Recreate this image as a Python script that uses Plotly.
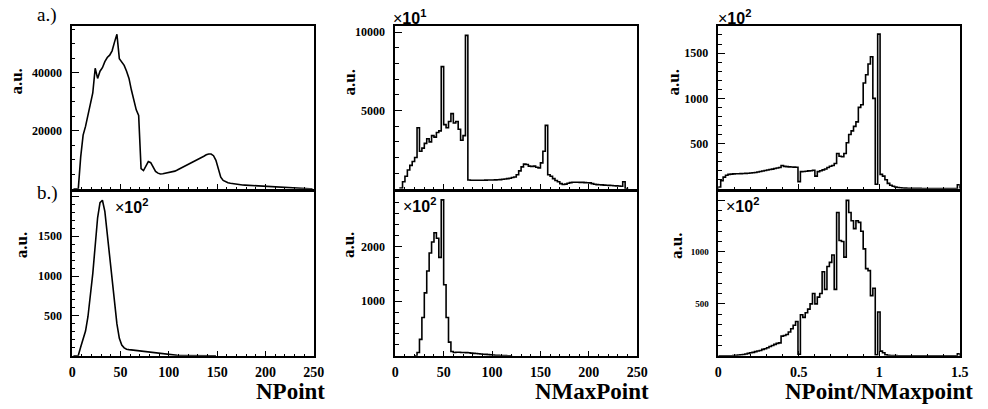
import numpy as np
import plotly.graph_objects as go

W, H = 988, 409

# ---------------- data ----------------
# NPoint histogram (a.), 2.5-wide bins starting at 0
npoint_a_start, npoint_a_width = 0.0, 2.5
npoint_a = [0, 0, 0, 11000, 18500, 21500, 25500, 28500, 33000, 41500,
            38000, 40500, 41700, 43800, 45200, 46000, 47500, 50500, 53200, 44800,
            43800, 42500, 40500, 38000, 34000, 30000, 27200, 25300, 7000, 6300,
            7900, 9400, 9000, 7300, 6000, 5400, 5100, 5200, 5400, 5500,
            5600, 5800, 6100, 6500, 6900, 7400, 7800, 8200, 8600, 9000,
            9400, 9900, 10300, 10800, 11200, 11700, 12000, 12000, 11400, 9800,
            6500, 4000, 2900, 2400, 2100, 1900, 1750, 1600, 1500, 1400,
            1330, 1270, 1220, 1180, 1140, 1090, 1030, 960, 890, 820,
            760, 700, 640, 580, 520, 460, 400, 350, 300, 260,
            220, 180, 150, 120, 100, 80, 60, 40, 25, 10]

# NPoint histogram (b.)
npoint_b_start, npoint_b_width = 0.0, 2.5
npoint_b = [0, 0, 5, 110, 200, 310, 490, 730, 1030, 1380,
            1730, 1920, 1950, 1810, 1530, 1240, 970, 700, 400, 220,
            135, 100, 83, 78, 74, 71, 67, 63, 58, 54,
            49, 45, 41, 37, 33, 29, 26, 22, 18, 14,
            11, 9, 7, 6, 5, 4, 3, 3, 2, 2,
            2, 1, 1, 1, 1, 1, 0, 0, 0, 0]

# NMaxPoint histogram (a.)
nmax_a_start, nmax_a_width = 5.0, 2.5
nmax_a = [50, 450, 800, 1200, 1500, 1750, 2000, 3900, 2400, 2600,
          2900, 3200, 3000, 3400, 3300, 3600, 3700, 7800, 4100, 3900,
          4300, 4800, 4200, 4300, 3800, 3100, 3400, 9800, 560, 550,
          550, 545, 545, 550, 550, 555, 560, 560, 565, 570,
          580, 590, 610, 630, 650, 680, 720, 760, 900, 1150,
          1400, 1580, 1550, 1450, 1430, 1450, 1380, 1340, 1660, 2400,
          4050, 900, 800, 650, 530, 450, 330, 280, 300, 360,
          400, 420, 420, 420, 410, 410, 400, 390, 380, 330,
          290, 270, 260, 250, 240, 230, 220, 210, 200, 190,
          180, 170, 450, 20]

# NMaxPoint histogram (b.)
nmax_b_start, nmax_b_width = 20.0, 2.5
nmax_b = [0, 60, 300, 700, 1150, 1550, 1880, 2080, 2250, 2150,
          1800, 2850, 1300, 700, 250, 80, 60, 65, 65, 62,
          60, 58, 55, 50, 45, 42, 38, 34, 30, 26,
          22, 18, 14, 11, 8, 6, 4, 3, 2, 1]

# NPoint/NMaxpoint histogram (a.)
ratio_a_start, ratio_a_width = 0.0, 0.015
ratio_a = [20, 90, 130, 150, 160, 163, 165, 166, 167, 168,
           170, 171, 173, 175, 178, 181, 186, 192, 197, 202,
           208, 213, 218, 224, 230, 236, 258, 248, 245, 243,
           242, 240, 238, 80, 190, 192, 195, 198, 200, 205,
           140, 190, 200, 210, 220, 235, 250, 258, 280, 390,
           360, 355, 390, 510, 600, 640, 690, 740, 900, 930,
           1170, 1260, 1380, 1460, 1000, 50, 1710, 160, 140, 100,
           60, 40, 28, 20, 15, 12, 10, 8, 7, 6,
           6, 5, 5, 5, 4, 4, 4, 4, 3, 3,
           3, 3, 3, 3, 3, 3, 3, 3, 3, 45]

# NPoint/NMaxpoint histogram (b.)
ratio_b_start, ratio_b_width = 0.0, 0.015
ratio_b = [0, 0, 0, 0, 0, 0, 2, 5, 8, 10,
           13, 18, 24, 29, 33, 40, 46, 52, 62, 68,
           78, 90, 100, 110, 120, 125, 190, 195, 205, 230,
           260, 295, 330, 15, 395, 370, 415, 450, 500, 600,
           500, 565, 600, 810, 640, 860, 900, 970, 640, 1380,
           1110, 1100, 950, 1497, 1380, 1300, 1225, 1300, 1285, 1200,
           1030, 840, 820, 580, 650, 10, 422, 45, 29, 10,
           5, 3, 2, 2, 1, 1, 1, 1, 1, 1,
           1, 1, 1, 1, 1, 1, 1, 1, 1, 1,
           1, 1, 1, 1, 1, 1, 1, 1, 1, 20]

x_titles = ["NPoint", "NMaxPoint", "NPoint/NMaxpoint"]
y_title = "a.u."
row_labels = ["a.)", "b.)"]

# ---------------- helpers ----------------
def px_x(p):
    return p / W

def px_y(p):
    return 1 - p / H

def step_xy(start, width, counts):
    counts = list(counts)
    n = len(counts)
    edges = start + width * np.arange(n + 1)
    xs = [edges[0]] + list(edges[:-1]) + [edges[-1], edges[-1]]
    ys = [0] + counts + [counts[-1], 0]
    return xs, ys

def center_xy(start, width, counts):
    counts = list(counts)
    xs = start + width * (np.arange(len(counts)) + 0.5)
    return list(xs), counts

LINE = dict(color="black", width=1.6)

fig = go.Figure()

traces = [
    ("linear", center_xy(npoint_a_start, npoint_a_width, npoint_a)),
    ("hv", step_xy(nmax_a_start, nmax_a_width, nmax_a)),
    ("hv", step_xy(ratio_a_start, ratio_a_width, ratio_a)),
    ("linear", center_xy(npoint_b_start, npoint_b_width, npoint_b)),
    ("hv", step_xy(nmax_b_start, nmax_b_width, nmax_b)),
    ("hv", step_xy(ratio_b_start, ratio_b_width, ratio_b)),
]
for k, (shape, (xs, ys)) in enumerate(traces, start=1):
    fig.add_trace(go.Scatter(x=xs, y=ys, mode="lines", line=dict(LINE, shape=shape),
                             xaxis=f"x{k}", yaxis=f"y{k}", showlegend=False,
                             hoverinfo="skip"))

# ---------------- axes ----------------
col_px = [(69.3, 314.5), (397.3, 643.0), (725.3, 970.5)]
row_px = [(25.0, 188.3), (191.7, 355.7)]

x_ranges = [[0, 250], [0, 250], [0, 1.5]]
x_dtick = [50, 50, 0.5]
x_minor = [10, 10, 0.1]

y_specs = [
    dict(range=[0, 56070], vals=[20000, 40000], text=["20000", "40000"], minor=5000, size=12),
    dict(range=[0, 10400], vals=[5000, 10000], text=["5000", "10000"], minor=1000, size=12),
    dict(range=[0, 1800], vals=[500, 1000, 1500], text=["500", "1000", "1500"], minor=100, size=12),
    dict(range=[0, 2050], vals=[500, 1000, 1500, 2000], text=["500", "1000", "1500", ""], minor=100, size=12),
    dict(range=[0, 2990], vals=[1000, 2000], text=["1000", "2000"], minor=200, size=12),
    dict(range=[0, 1575], vals=[500, 1000, 1500], text=["500", "1000", ""], minor=100, size=9),
]

layout = {}
for r in range(2):
    for c in range(3):
        k = r * 3 + c + 1
        xd = [px_x(col_px[c][0]), px_x(col_px[c][1])]
        yd = [px_y(row_px[r][1]), px_y(row_px[r][0])]
        xa = dict(domain=xd, range=x_ranges[c], anchor=f"y{k}",
                  showline=True, mirror=True, linecolor="black", linewidth=1.5,
                  ticks="inside", ticklen=5, tickwidth=1, tickcolor="black",
                  tickmode="linear", tick0=0, dtick=x_dtick[c],
                  minor=dict(ticks="inside", ticklen=2.5, tickwidth=1, tickcolor="black",
                             tick0=0, dtick=x_minor[c], showgrid=False),
                  showgrid=False, zeroline=False,
                  showticklabels=(r == 1),
                  tickfont=dict(family="Liberation Serif", size=14, color="black", weight="bold"),
                  ticklabelstandoff=3)
        s = y_specs[k - 1]
        ya = dict(domain=yd, range=s["range"], anchor=f"x{k}",
                  showline=True, mirror=True, linecolor="black", linewidth=1.5,
                  ticks="inside", ticklen=7, tickwidth=1, tickcolor="black",
                  tickmode="array", tickvals=s["vals"], ticktext=s["text"],
                  minor=dict(ticks="inside", ticklen=3.5, tickwidth=1, tickcolor="black",
                             tick0=0, dtick=s["minor"], showgrid=False),
                  showgrid=False, zeroline=False,
                  tickfont=dict(family="Liberation Serif", size=s["size"], color="black", weight="bold"),
                  ticklabelstandoff=6)
        sfx = "" if k == 1 else str(k)
        layout[f"xaxis{sfx}"] = xa
        layout[f"yaxis{sfx}"] = ya

fig.update_layout(**layout)

# ---------------- text ----------------
ann = []
serif_b = dict(family="Liberation Serif", color="black", weight="bold")

# row labels
for lab, (x, y) in zip(row_labels, [(44, 14), (44, 192)]):
    ann.append(dict(text=lab, x=px_x(x), y=px_y(y), xref="paper", yref="paper",
                    xanchor="center", yanchor="middle", showarrow=False,
                    font=dict(family="Liberation Serif", size=19, color="black")))

# y titles
for (x, y) in [(13, 81), (351, 82), (680, 82), (18, 245), (350, 245), (683, 246)]:
    ann.append(dict(text=y_title, x=px_x(x), y=px_y(y), xref="paper", yref="paper",
                    xanchor="center", yanchor="middle", textangle=-90, showarrow=False,
                    font=dict(serif_b, size=17)))

# x titles
for t, xr in zip(x_titles, [328, 657, 986]):
    ann.append(dict(text=t, x=px_x(xr), y=px_y(391), xref="paper", yref="paper",
                    xanchor="right", yanchor="middle", showarrow=False,
                    font=dict(serif_b, size=23)))

# exponent labels
for e, (x, y) in zip(["1", "2", "2", "2", "2"],
                     [(393, 16), (723, 16), (111, 206), (403, 205), (731, 205)]):
    ann.append(dict(text=f"\u00d7<b>10</b><sup><b>{e}</b></sup>", x=px_x(x), y=px_y(y),
                    xref="paper", yref="paper",
                    xanchor="left", yanchor="middle", showarrow=False,
                    font=dict(family="Liberation Sans", size=16, color="black")))

fig.update_layout(annotations=ann, width=W, height=H,
                  margin=dict(l=0, r=0, t=0, b=0),
                  paper_bgcolor="white", plot_bgcolor="white", showlegend=False)

fig.write_html("out.html")
